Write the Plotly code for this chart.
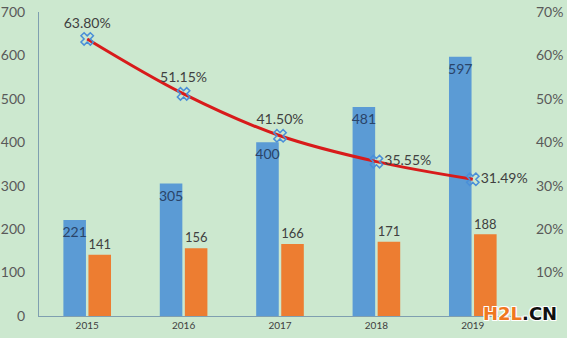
import plotly.graph_objects as go

years = ["2015", "2016", "2017", "2018", "2019"]
blue_vals = [221, 305, 400, 481, 597]
orange_vals = [141, 156, 166, 171, 188]
ratio_pct = [63.80, 51.15, 41.50, 35.55, 31.49]
left_ticks = [0, 100, 200, 300, 400, 500, 600, 700]
right_ticks = [10, 20, 30, 40, 50, 60, 70]

BG = "#CCE8CF"
FONT = "Lato"

fig = go.Figure()

fig.add_trace(go.Bar(
    x=years, y=blue_vals, marker=dict(color="#5B9BD5", line=dict(width=0)),
    text=[str(v) for v in blue_vals], textposition="inside", insidetextanchor="end",
    textangle=0, constraintext="none",
    textfont=dict(family=FONT, size=14, color="#2A4468"), cliponaxis=False,
))
fig.add_trace(go.Bar(
    x=years, y=orange_vals, marker=dict(color="#ED7D31", line=dict(width=0)),
    text=[str(v) for v in orange_vals], textposition="outside", textangle=0,
    textfont=dict(family=FONT, size=14, color="#404040"), cliponaxis=False,
))
fig.add_trace(go.Scatter(
    x=years, y=ratio_pct, yaxis="y2", mode="lines+markers+text",
    line=dict(color="#D81B1B", width=3, shape="spline"),
    marker=dict(symbol="x-open", size=11, color="#4A8FD8", line=dict(width=1.5, color="#4A8FD8")),
    text=[f"{v:.2f}%" for v in ratio_pct],
    textposition=["top center", "top center", "top center", "middle right", "middle right"],
    textfont=dict(family=FONT, size=14, color="#404040"), cliponaxis=False,
))

fig.update_layout(
    width=567, height=338,
    margin=dict(l=39, r=46, t=12, b=22),
    paper_bgcolor=BG, plot_bgcolor=BG,
    showlegend=False,
    barmode="group", bargap=0.48, bargroupgap=0.1,
    font=dict(family=FONT, color="#595959"),
    xaxis=dict(
        type="category", showgrid=False, ticks="", showline=True, automargin=False,
        linecolor="#7F9FB0", linewidth=1,
        tickfont=dict(family=FONT, size=10, color="#404040"),
    ),
    yaxis=dict(
        range=[0, 700], tickvals=left_ticks, showgrid=False, zeroline=False,
        showline=True, linecolor="#7F9FB0", linewidth=1, ticks="", automargin=False,
        tickfont=dict(family=FONT, size=14, color="#595959"), ticklabelstandoff=10,
    ),
    yaxis2=dict(
        range=[0, 70], tickvals=right_ticks, ticktext=[f"{v}%" for v in right_ticks],
        overlaying="y", side="right", showgrid=False, zeroline=False,
        showline=False, ticks="", automargin=False,
        tickfont=dict(family=FONT, size=14, color="#595959"), ticklabelstandoff=14,
    ),
    annotations=[dict(
        xref="paper", yref="paper", x=0.998, y=0.008, xanchor="center", yanchor="middle",
        text="<span style='color:#F07820'>H2L</span>.CN", showarrow=False,
        font=dict(
            family="DejaVu Sans", size=18, color="#111111", weight="bold",
            shadow="-1px -1px 0 #fff, 1px -1px 0 #fff, -1px 1px 0 #fff, 1px 1px 0 #fff",
        ),
    )],
)

fig.write_html("out.html")
